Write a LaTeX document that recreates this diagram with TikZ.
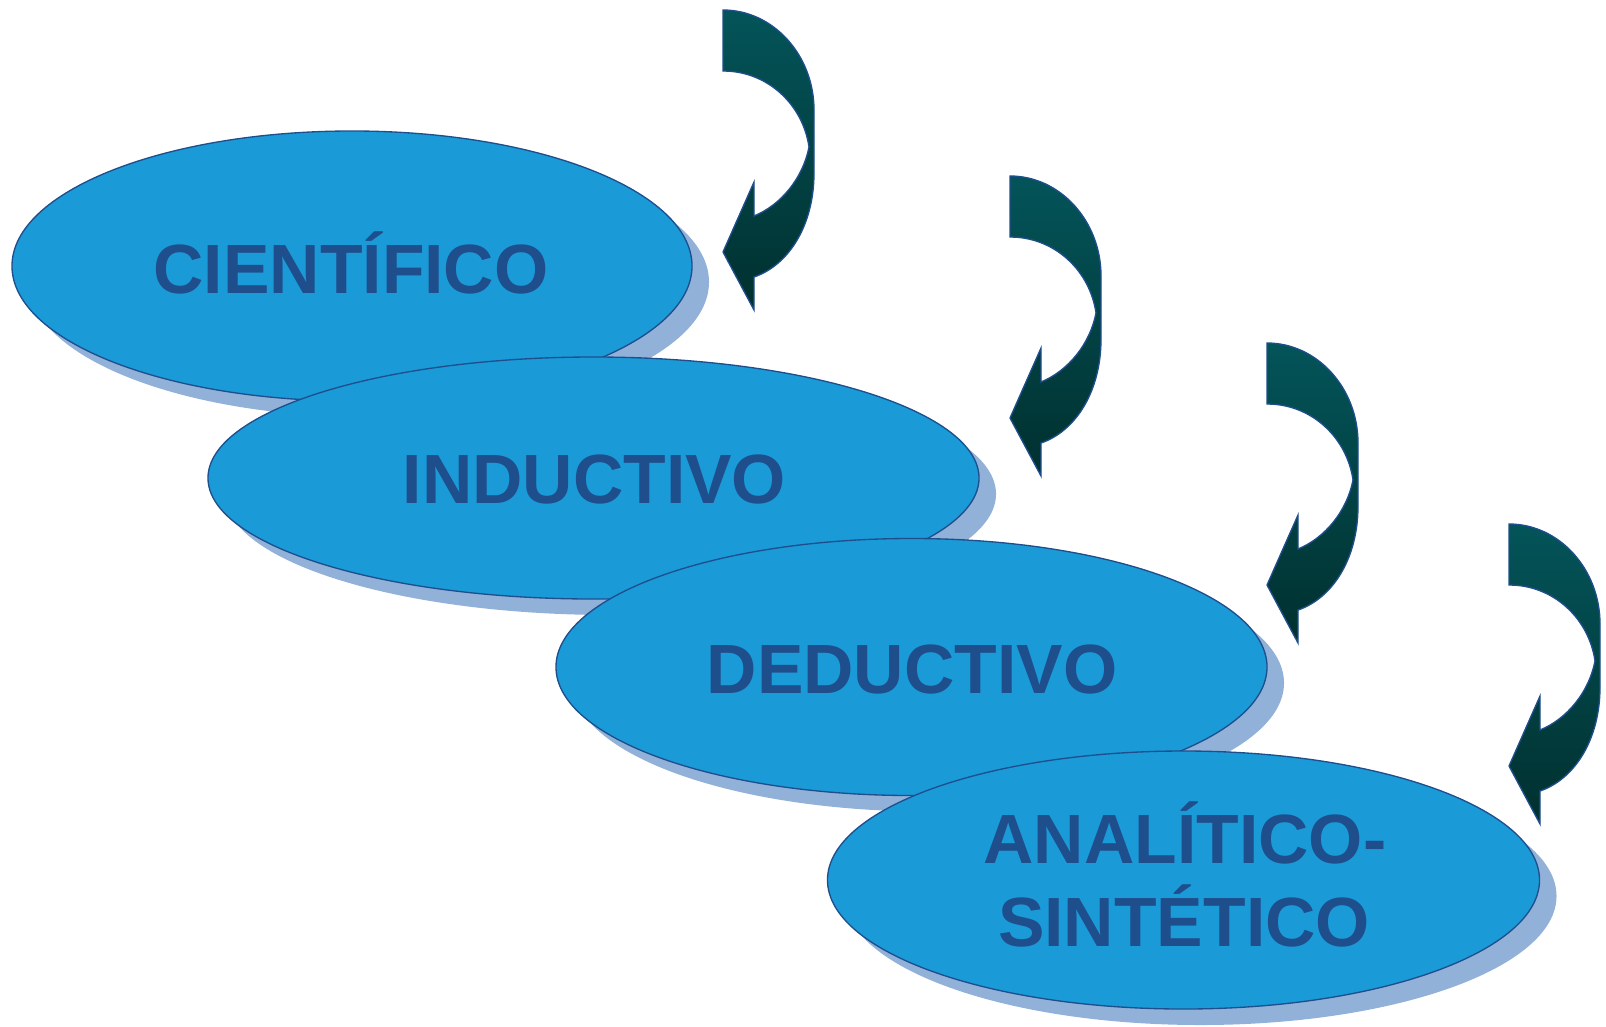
\documentclass[tikz,border=0pt]{standalone}
\usepackage{fontspec}
\setmainfont{Liberation Sans}
\usetikzlibrary{shapes.geometric,shadows}
\definecolor{ellfill}{HTML}{1B9AD8}
\definecolor{edge}{HTML}{1F4E8C}
\definecolor{txt}{HTML}{1F4E8C}
\definecolor{shade}{HTML}{92B1D8}
\definecolor{arrtop}{HTML}{035459}
\definecolor{arrbot}{HTML}{01302F}
\tikzset{
  oval/.style={ellipse, draw=edge, line width=0.04cm, fill=ellfill, inner sep=0pt,
    drop shadow={shadow xshift=0.51cm, shadow yshift=-0.48cm, fill=shade, opacity=1}},
  lbl/.style={font=\fontsize{59.5pt}{70pt}\selectfont\bfseries, text=txt, inner sep=0pt,
    text height=42.6pt, text depth=0pt},
  arrowbody/.style={draw=edge, line width=0.04cm, top color=arrtop, bottom color=arrbot},
  bendarrow/.pic={
    \path[arrowbody] (0,0) .. controls (50,0) and (91,45) .. (91,100) -- (91,163)
      .. controls (91,215) and (66,255) .. (31,267) -- (31,300) -- (0,242) -- (31,172)
      -- (31,206) .. controls (58,195) and (80,168) .. (86,137)
      .. controls (80,95) and (45,61) .. (0,61) -- cycle;
  }
}
\begin{document}
\begin{tikzpicture}[x=0.03cm,y=-0.03cm]
\useasboundingbox (0,0) rectangle (1606,1026);
\node[oval, minimum width=20.4cm, minimum height=8.1cm] (e1) at (352,266) {};
\node[lbl] (t1) at (351,269) {CIENTÍFICO};
\node[oval, minimum width=23.13cm, minimum height=7.26cm] (e2) at (593.5,478) {};
\node[lbl] (t2) at (594.5,479) {INDUCTIVO};
\node[oval, minimum width=21.33cm, minimum height=7.71cm] (e3) at (911.5,667) {};
\node[lbl] (t3) at (912,669) {DEDUCTIVO};
\node[oval, minimum width=21.36cm, minimum height=7.74cm] (e4) at (1183.5,880) {};
\node[lbl] (t4a) at (1185,839) {ANALÍTICO-};
\node[lbl] (t4b) at (1184,922) {SINTÉTICO};
\pic (a1) at (723,10) {bendarrow};
\pic (a2) at (1010,176) {bendarrow};
\pic (a3) at (1267,343) {bendarrow};
\pic (a4) at (1509,524) {bendarrow};
\end{tikzpicture}
\end{document}
